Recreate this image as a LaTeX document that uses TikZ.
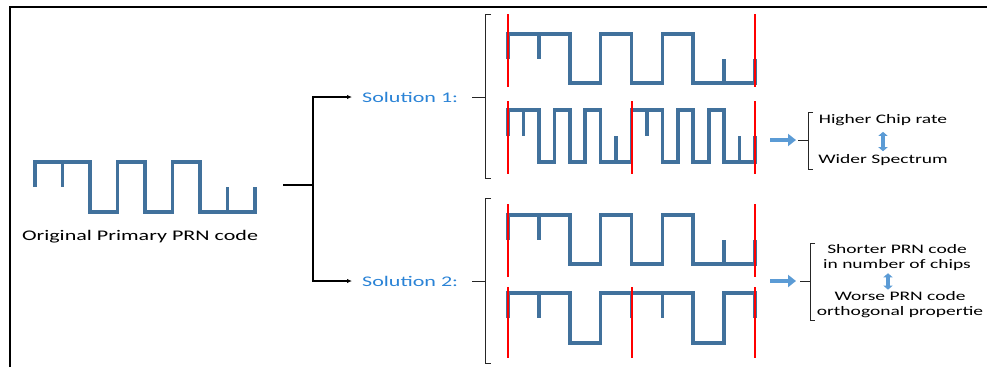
\documentclass[tikz,border=0pt]{standalone}
\usepackage{fontspec}
\setmainfont[FakeStretch=1.5]{Carlito}
\usetikzlibrary{arrows.meta}
\definecolor{ChipBlue}{HTML}{41719C}
\definecolor{SolBlue}{HTML}{2A83D6}
\definecolor{ArrowBlue}{HTML}{5B9BD5}
\definecolor{MarkRed}{HTML}{FF0000}
\definecolor{BraceGrey}{HTML}{262626}

% chip sequences, one unit = one chip, 0 = high level, 1 = low level
\newcommand{\primarycode}{%
  \draw[chipline] (0,0.5) -- (0,0) -- (2,0) -- (2,1) -- (3,1) -- (3,0) -- (4,0) -- (4,1)
    -- (5,1) -- (5,0) -- (6,0) -- (6,1) -- (8,1) -- (8,0.5);
  \draw[chipline] (1,0) -- (1,0.5) (7,1) -- (7,0.5);}
\newcommand{\shortcode}{%
  \draw[chipline] (0,0.5) -- (0,0) -- (2,0) -- (2,1) -- (3,1) -- (3,0) -- (4,0) -- (4,0.5);
  \draw[chipline] (1,0) -- (1,0.5);}

\begin{document}
\begin{tikzpicture}[x=1pt,y=-1pt,
    chipline/.style={ChipBlue,line width=3.6pt},
    redmark/.style={MarkRed,line width=1.8pt},
    bracket/.style={BraceGrey,line width=0.9pt},
    treeline/.style={black,line width=1.4pt},
    soltext/.style={text=SolBlue,font=\fontsize{14.7}{17}\selectfont,inner sep=2pt},
    restext/.style={text=black,font=\fontsize{13}{15}\selectfont,inner sep=2pt,align=center},
    fatarrow/.style={ArrowBlue,line width=4pt,-{Triangle[length=8pt,width=12pt]}},
    duoarrow/.style={ArrowBlue,line width=3.6pt,{Triangle[length=4pt,width=9pt]}-{Triangle[length=4pt,width=9pt]}}]
  \useasboundingbox (0,0) rectangle (987,367);
  \draw[line width=2.2pt] (10,367) -- (10,7) -- (987,7);

  % original code
  \begin{scope}[shift={(35,162)},x=27.5pt,y=-50pt]
    \primarycode
  \end{scope}
  \node[font=\fontsize{14.7}{17}\selectfont] (orig) at (140,237) {Original Primary PRN code};

  % branching
  \coordinate (root) at (283,185);
  \coordinate (fork) at (313,185);
  \node[soltext,anchor=west] (sol1) at (360,97) {Solution 1:};
  \node[soltext,anchor=west] (sol2) at (360,281) {Solution 2:};
  \draw[treeline] (root) -- (fork);
  \draw[treeline,-{Latex[length=5pt,width=4.5pt]},shorten >=8pt] (fork) |- (sol1);
  \draw[treeline,-{Latex[length=5pt,width=4.5pt]},shorten >=8pt] (fork) |- (sol2);
  \coordinate (brk1) at (485,97);
  \coordinate (brk2) at (485,281);
  \draw[bracket,shorten <=12pt] (sol1) -- (brk1);
  \draw[bracket,shorten <=12pt] (sol2) -- (brk2);
  \draw[bracket] (491,14) -- (485,14) -- (485,178) -- (491,178);
  \draw[bracket] (491,198) -- (485,198) -- (485,363) -- (491,363);

  % solution 1: same length, double chip rate
  \begin{scope}[shift={(508,34)},x=30.875pt,y=-49pt]
    \primarycode
  \end{scope}
  \begin{scope}[shift={(508,110)},x=15.44pt,y=-52pt]
    \primarycode
  \end{scope}
  \begin{scope}[shift={(631.5,110)},x=15.44pt,y=-52pt]
    \primarycode
  \end{scope}
  \draw[redmark] (508,14) -- (508,87) (755,14) -- (755,87);
  \draw[redmark] (508,101) -- (508,174) (632,101) -- (632,174) (755,101) -- (755,174);

  % solution 2: same chip rate, shorter code
  \begin{scope}[shift={(508,215)},x=30.875pt,y=-49pt]
    \primarycode
  \end{scope}
  \begin{scope}[shift={(508,293)},x=30.875pt,y=-50pt]
    \shortcode
  \end{scope}
  \begin{scope}[shift={(631.5,293)},x=30.875pt,y=-50pt]
    \shortcode
  \end{scope}
  \draw[redmark] (508,204) -- (508,277) (755,204) -- (755,277);
  \draw[redmark] (508,287) -- (508,358) (632,287) -- (632,358) (755,287) -- (755,358);

  % consequences
  \coordinate (out1) at (770,140);
  \coordinate (out2) at (770,281);
  \coordinate (res1) at (808,140);
  \coordinate (res2) at (810,281);
  \draw[fatarrow,shorten >=12pt] (out1) -- (res1);
  \draw[fatarrow,shorten >=14pt] (out2) -- (res2);
  \draw[bracket] (813,112) -- (808,112) -- (808,169) -- (813,169) (798,140) -- (808,140);
  \draw[bracket] (815,243) -- (810,243) -- (810,320) -- (815,320) (800,281) -- (810,281);
  \node[restext] (hcr) at (883,120) {Higher Chip rate};
  \node[restext] (wsp) at (883,160) {Wider Spectrum};
  \draw[duoarrow,shorten <=4pt,shorten >=1pt] (hcr) -- (wsp);
  \node[restext] (spc) at (897,258) {Shorter PRN code\\in number of chips};
  \node[restext] (wpc) at (900,305) {Worse PRN code\\orthogonal propertie};
  \draw[duoarrow] ([xshift=-9pt]spc.south) -- ([xshift=-12pt]wpc.north);
\end{tikzpicture}
\end{document}
